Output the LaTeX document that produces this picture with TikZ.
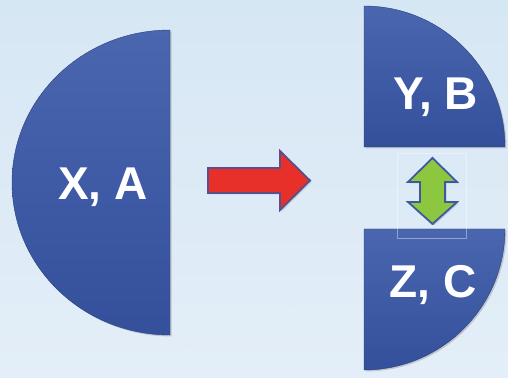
\documentclass[tikz,border=0pt]{standalone}
\usepackage{fontspec}
\setmainfont{Liberation Sans}
\usetikzlibrary{shadows}
\definecolor{bgtop}{HTML}{D6E7F4}
\definecolor{bgbot}{HTML}{E3EEF8}
\definecolor{blueA}{HTML}{4A66AF}
\definecolor{blueB}{HTML}{34509B}
\definecolor{redF}{HTML}{E8302A}
\definecolor{redE}{HTML}{5B4E8E}
\definecolor{greenF}{HTML}{8DC63F}
\definecolor{greenE}{HTML}{3C5AA2}
\begin{document}
\begin{tikzpicture}[x=1pt,y=1pt,
  sector/.style={top color=blueA,bottom color=blueB,draw=blueB!80!black,line width=0.4pt,
    drop shadow={shadow xshift=1.5pt,shadow yshift=-1.5pt,opacity=0.35}},
  lbl/.style={text=white,font=\fontsize{46}{46}\selectfont\bfseries,inner sep=0pt},
  arrowshape/.style={line width=1.8pt,line join=miter,
    drop shadow={shadow xshift=1.5pt,shadow yshift=-1.5pt,opacity=0.3}}]
\useasboundingbox (0,0) rectangle (508,377);
\shade[top color=bgtop,bottom color=bgbot] (0,0) rectangle (508,377);
\draw[white,opacity=0.5,dashed,line width=0.4pt] (120,0) -- (508,152);
% left half disc
\path[sector] (170,347) arc[start angle=90,end angle=270,x radius=158pt,y radius=152.5pt] -- cycle;
% top quarter
\path[sector] (364,230) -- (505,230) arc[start angle=0,end angle=90,radius=141pt] -- cycle;
% bottom quarter
\path[sector] (364,148) -- (505,148) arc[start angle=0,end angle=-90,radius=141pt] -- cycle;
\draw[white,opacity=0.4,line width=0.4pt] (397,139) rectangle (466,224);
% red arrow
\path[arrowshape,fill=redF,draw=redE] (208,184) -- (280,184) -- (280,167) -- (310,196.5) -- (280,226) -- (280,209) -- (208,209) -- cycle;
% green double arrow
\path[arrowshape,fill=greenF,draw=greenE] (432.5,219) -- (457,195) -- (445,195) -- (445,175) -- (457,175) -- (432.5,153) -- (408,175) -- (420,175) -- (420,195) -- (408,195) -- cycle;
\node[lbl] (xa) at (103,190) {X, A};
\node[lbl] (yb) at (436,280) {Y, B};
\node[lbl] (zc) at (433,92) {Z, C};
\end{tikzpicture}
\end{document}
